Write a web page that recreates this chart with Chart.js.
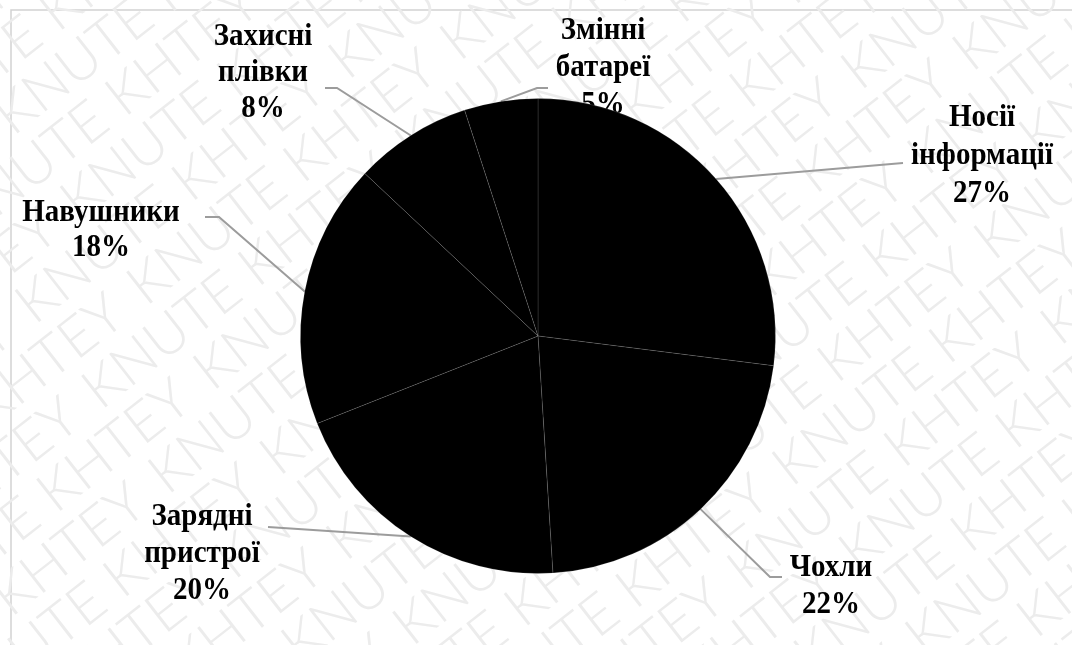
<!DOCTYPE html>
<html>
<head>
<meta charset="utf-8">
<script src="https://cdn.jsdelivr.net/npm/chart.js@4/dist/chart.umd.min.js"></script>
<style>
  html, body { margin: 0; padding: 0; background: #ffffff; }
  #wrap { position: relative; width: 1072px; height: 645px; }
</style>
</head>
<body>
<div id="wrap"><canvas id="chart" width="1072" height="645"></canvas></div>
<script>
// Sales structure by product group, %
const categories = ['Носії інформації', 'Чохли', 'Зарядні пристрої', 'Навушники', 'Захисні плівки', 'Змінні батареї'];
const shares = [27, 22, 20, 18, 8, 5];

// Where each label block sits and how its leader line bends (canvas px)
const labelLayout = [
  { x: 982, y: 126, gap: 38, anchor: [903, 163], elbow: null },
  { x: 831, y: 576, gap: 37, anchor: [782, 577], elbow: [770, 577] },
  { x: 202, y: 525, gap: 37, anchor: [268, 527], elbow: null },
  { x: 101, y: 221, gap: 35, anchor: [205, 217], elbow: [219, 217] },
  { x: 263, y: 45,  gap: 36, anchor: [325, 88],  elbow: [337, 88] },
  { x: 603, y: 39,  gap: 37, anchor: [548, 88],  elbow: [537, 88] }
];

const watermarkWords = ['KNUTE', 'KHTEY'];

const watermark = {
  id: 'watermark',
  beforeDraw(chart) {
    const ctx = chart.ctx;
    ctx.save();
    ctx.fillStyle = '#ffffff';
    ctx.fillRect(0, 0, chart.width, chart.height);
    // frame
    ctx.strokeStyle = '#d2d2d2';
    ctx.lineWidth = 1.5;
    ctx.beginPath();
    ctx.moveTo(11, chart.height + 5);
    ctx.lineTo(11, 10);
    ctx.lineTo(chart.width + 5, 10);
    ctx.stroke();
    // diagonal stamp text
    ctx.translate(536, 322);
    ctx.rotate(-38 * Math.PI / 180);
    ctx.font = '300 56px Lato, "Liberation Sans", Arial, sans-serif';
    ctx.fillStyle = '#ececec';
    ctx.textBaseline = 'middle';
    const step = ctx.measureText(watermarkWords[0] + ' ').width;
    for (let r = -12; r <= 12; r++) {
      const y = r * 54;
      const shift = (((r % 2) + 2) % 2) * step * 0.5;
      for (let c = -8; c <= 8; c++) {
        const word = watermarkWords[((c + r) % 2 + 2) % 2];
        ctx.fillText(word, c * step - shift, y);
      }
    }
    ctx.restore();
  }
};

const pieLabels = {
  id: 'pieLabels',
  beforeDatasetsDraw(chart) {
    const ctx = chart.ctx;
    const meta = chart.getDatasetMeta(0);
    ctx.save();
    meta.data.forEach((arc, i) => {
      const p = arc.getProps(['x', 'y', 'startAngle', 'endAngle', 'outerRadius'], true);
      const mid = (p.startAngle + p.endAngle) / 2;
      const ex = p.x + Math.cos(mid) * p.outerRadius;
      const ey = p.y + Math.sin(mid) * p.outerRadius;
      const L = labelLayout[i];
      ctx.strokeStyle = '#9c9c9c';
      ctx.lineWidth = 2;
      ctx.beginPath();
      ctx.moveTo(L.anchor[0], L.anchor[1]);
      if (L.elbow) ctx.lineTo(L.elbow[0], L.elbow[1]);
      ctx.lineTo(ex, ey);
      ctx.stroke();

      const lines = categories[i].split(' ').concat([shares[i] + '%']);
      ctx.fillStyle = '#000000';
      ctx.font = 'bold 29px "Liberation Serif", "Times New Roman", serif';
      ctx.textAlign = 'center';
      ctx.textBaseline = 'alphabetic';
      lines.forEach((t, k) => {
        ctx.save();
        ctx.translate(L.x, L.y + k * L.gap);
        ctx.scale(1, 1.12);
        ctx.fillText(t, 0, 0);
        ctx.restore();
      });
    });
    ctx.restore();
  }
};

new Chart(document.getElementById('chart'), {
  type: 'pie',
  data: {
    labels: categories,
    datasets: [{
      data: shares,
      backgroundColor: '#000000',
      borderColor: 'rgba(255,255,255,0.12)',
      borderWidth: 1
    }]
  },
  options: {
    responsive: false,
    devicePixelRatio: 1,
    animation: false,
    layout: { padding: { top: 98, bottom: 71, left: 4, right: 0 } },
    plugins: {
      legend: { display: false },
      tooltip: { enabled: false }
    }
  },
  plugins: [watermark, pieLabels]
});
</script>
</body>
</html>
